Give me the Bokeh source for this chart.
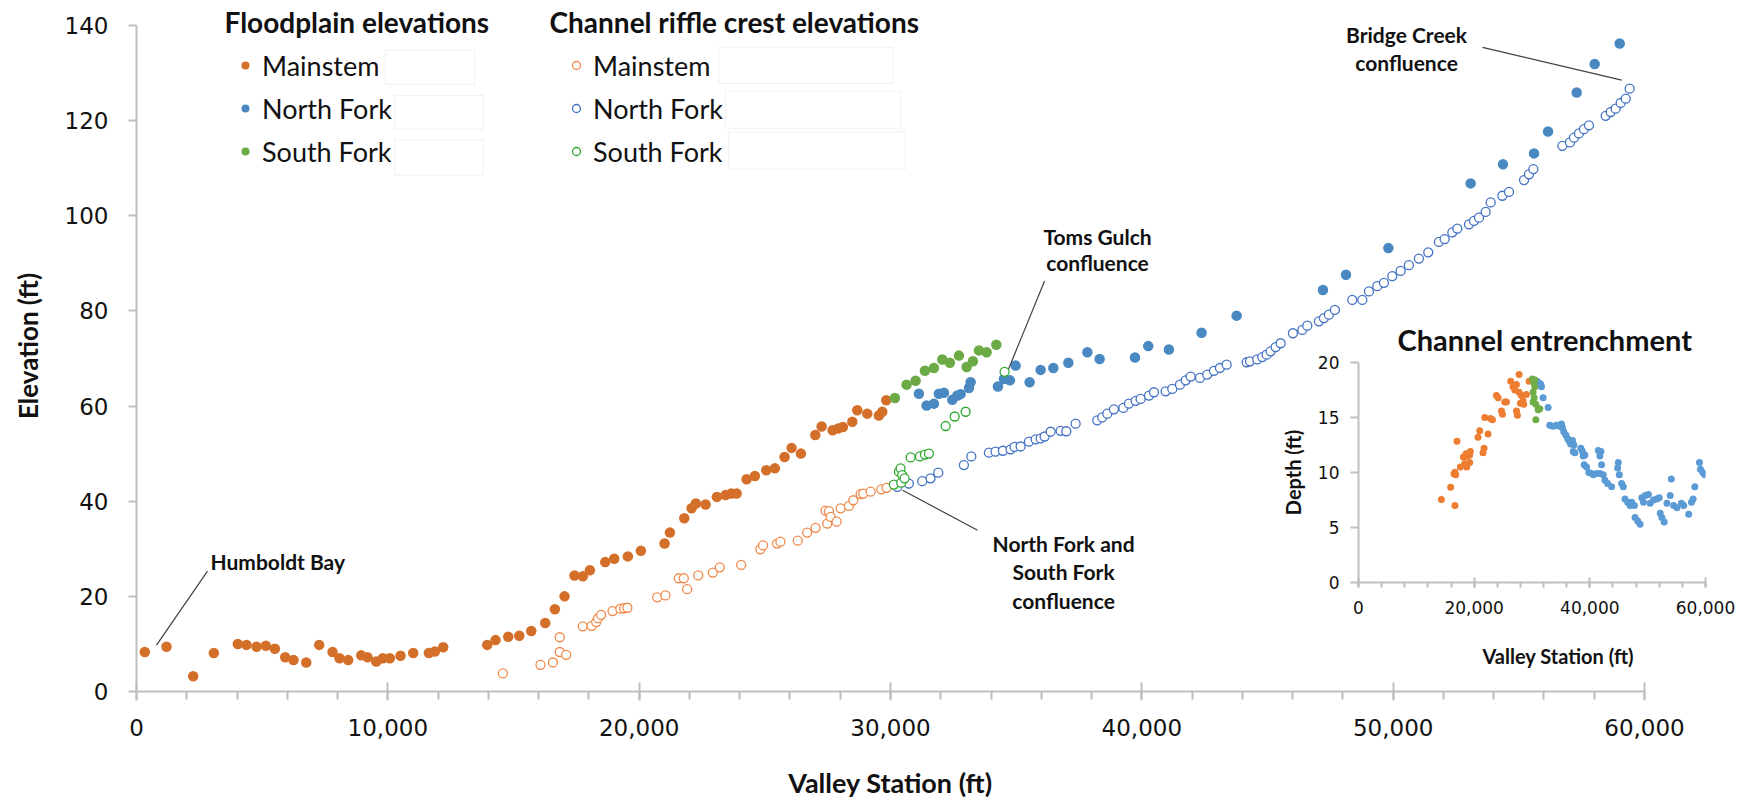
import math
from bokeh.plotting import figure
from bokeh.models import (Range1d, Label, Legend, LegendItem, BoxAnnotation, Title,
                          NumeralTickFormatter, SingleIntervalTicker)
from bokeh.layouts import column
from bokeh.embed import file_html
from bokeh.resources import INLINE

# ---------------- data ----------------
# Floodplain elevations (filled markers)
fp_main_x = [330, 1194, 2256, 3077, 4032, 4377, 4775, 5146, 5505, 5917, 6248, 6752, 7270, 7800, 8078,
             8424, 8941, 9192, 9538, 9801, 10080, 10505, 11010, 11632, 11870, 12204, 13955, 14286, 14791,
             15229, 15707, 16263, 16646, 17031, 17429, 17760, 18039, 18650, 19008, 19550, 20068, 21011,
             21222, 21795, 22085, 22256, 22642, 23092, 23438, 23665, 23876, 24274, 24605, 25058, 25400,
             25786, 26065, 26435, 27008, 27260, 27697, 27924, 28106, 28480, 28679, 29077, 29538, 29673, 29832]
fp_main_y = [8.3, 9.4, 3.2, 8.1, 10.0, 9.8, 9.4, 9.6, 9.0, 7.2, 6.6, 6.1, 9.8, 8.3, 7.0,
             6.6, 7.6, 7.2, 6.3, 7.0, 7.0, 7.5, 8.1, 8.1, 8.4, 9.3, 9.8, 10.8, 11.5,
             11.7, 12.7, 14.4, 17.3, 20.0, 24.4, 24.2, 25.5, 27.2, 27.9, 28.4, 29.6, 31.1,
             33.4, 36.4, 38.5, 39.5, 39.3, 40.9, 41.3, 41.6, 41.6, 44.6, 45.3, 46.5, 46.9,
             49.3, 51.2, 50.0, 53.9, 55.7, 54.9, 55.3, 55.6, 56.7, 59.1, 58.4, 58.0, 58.8, 61.2]

fp_nf_x = [31130, 31437, 31727, 31926, 32125, 32459, 32658, 32790, 33121, 33188, 34274, 34513, 34752,
           34979, 35536, 35973, 36479, 37076, 37832, 38321, 39727, 40256, 41077, 42378, 43772, 47207,
           48123, 49809, 53084, 54370, 55605, 56162, 57302, 58018, 59013]
fp_nf_y = [62.6, 60.1, 60.5, 62.6, 62.8, 61.3, 62.2, 62.5, 63.8, 65.0, 64.1, 65.7, 65.4,
           68.5, 65.0, 67.6, 68.0, 69.1, 71.3, 69.9, 70.2, 72.6, 71.9, 75.4, 79.0, 84.4,
           87.6, 93.2, 106.8, 110.8, 113.1, 117.7, 125.9, 131.9, 136.2]

fp_sf_x = [30175, 30640, 31000, 31370, 31727, 32060, 32363, 32721, 33028, 33280, 33519, 33824, 34210]
fp_sf_y = [61.7, 64.5, 65.3, 67.4, 68.0, 69.8, 69.1, 70.6, 68.2, 69.4, 71.7, 71.3, 72.9]

# Channel riffle crest elevations (open markers)
rc_main_x = [14576, 16076, 16567, 16840, 16840, 17098, 17756, 18106, 18290, 18364, 18488, 18942, 19248,
             19400, 19530, 20716, 21046, 21576, 21775, 21910, 22348, 22930, 23209, 24058, 24823, 24929,
             25487, 25620, 26310, 26683, 27019, 27417, 27549, 27483, 27616, 27855, 28014, 28346, 28520,
             28811, 28917, 29208, 29634, 29845]
rc_main_y = [3.8, 5.6, 6.1, 11.4, 8.3, 7.7, 13.7, 13.8, 14.6, 15.4, 16.1, 16.9, 17.4,
             17.5, 17.6, 19.8, 20.2, 23.8, 23.8, 21.5, 24.4, 25.0, 26.1, 26.6, 29.9, 30.7,
             31.1, 31.5, 31.7, 33.4, 34.4, 38.0, 37.9, 35.3, 36.7, 35.7, 38.5, 39.0, 40.2,
             41.5, 41.6, 42.0, 42.5, 42.8]

rc_nf_x = [30268, 30730, 31263, 31594, 31900, 32920, 33215, 33915, 34181, 34472, 34778, 34937, 35177,
           35507, 35774, 35973, 36132, 36371, 36769, 36995, 37366, 38227, 38427, 38626, 38891, 39264,
           39488, 39753, 39952, 40284, 40483, 40948, 41213, 41517, 41744, 41943, 42313, 42604, 42869,
           43108, 43374, 44170, 44302, 44594, 44793, 44965, 45124, 45323, 45522, 46011, 46385, 46584,
           47046, 47245, 47444, 47682, 48374, 48772, 49036, 49369, 49634, 49965, 50295, 50626, 51024,
           51396, 51820, 52049, 52354, 52553, 53017, 53216, 53415, 53680, 53879, 54344, 54609, 55206,
           55405, 55578, 56732, 57035, 57194, 57393, 57592, 57791, 58455, 58654, 58853, 59052, 59251, 59410]
rc_nf_y = [43.0, 43.7, 44.2, 44.8, 46.0, 47.6, 49.4, 50.2, 50.4, 50.6, 50.9, 51.4, 51.5,
           52.5, 53.0, 53.2, 53.6, 54.6, 54.8, 54.7, 56.3, 57.0, 57.6, 58.4, 59.3, 59.6,
           60.5, 61.1, 61.5, 62.2, 62.9, 63.1, 63.6, 64.5, 65.4, 66.2, 65.9, 66.6, 67.4,
           68.0, 68.7, 69.2, 69.4, 69.8, 70.3, 70.8, 71.5, 72.4, 73.2, 75.3, 76.0, 76.9,
           77.8, 78.5, 79.2, 80.2, 82.3, 82.3, 84.1, 85.2, 85.9, 87.3, 88.4, 89.6, 91.0,
           92.3, 94.5, 95.1, 96.5, 97.3, 98.2, 98.9, 99.6, 100.8, 102.8, 104.2, 105.0, 107.5,
           108.7, 109.8, 114.7, 115.4, 116.4, 117.3, 118.2, 119.0, 121.0, 121.8, 122.5, 123.7, 124.6, 126.7]

rc_sf_x = [30135, 30334, 30402, 30429, 30468, 30560, 30800, 31170, 31370, 31530, 32194, 32553, 32989, 34540]
rc_sf_y = [43.5, 46.2, 46.9, 43.9, 45.5, 44.8, 49.2, 49.4, 49.8, 50.0, 55.8, 57.8, 58.8, 67.2]

# Channel entrenchment (inset): depth vs valley station
ent_main_x = [14320, 15934, 16683, 17030, 16510, 16683, 16800, 17610, 18360, 18130, 18830, 18710, 19225,
              19340, 19225, 18590, 18250, 20670, 20960, 21530, 21710, 21830, 22400, 22810, 23160, 23850,
              24140, 24720, 24890, 25300, 25580, 26330, 26730, 27020, 27310, 27310, 27480, 27770, 27770,
              28170, 28460, 28000, 28570, 29040, 29500]
ent_main_y = [7.55, 8.67, 7.0, 12.85, 9.88, 10.03, 9.8, 10.5, 10.8, 11.4, 11.5, 10.5, 10.9,
              11.9, 11.6, 11.7, 11.4, 13.2, 13.8, 11.8, 12.2, 15.0, 13.5, 14.9, 14.8, 17.0,
              16.8, 15.6, 15.3, 16.4, 16.4, 18.3, 17.8, 17.5, 18.0, 15.6, 15.2, 18.9, 17.3,
              17.0, 16.5, 16.3, 16.2, 17.1, 18.3]
ent_sf_x = [30080, 30310, 30480, 30190, 30370, 30190, 30660, 31060, 31350, 30660, 30480]
ent_sf_y = [18.5, 18.2, 17.8, 17.3, 16.8, 16.4, 16.2, 15.7, 15.8, 14.8, 18.4]
ent_nf_x = [30880, 31350, 31640, 31520, 31920, 32790, 33080, 33650, 34230, 34810, 35100, 35270, 35500,
            35850, 36140, 36370, 36660, 37010, 37240, 37120, 37410, 38450, 38730, 38850, 39140, 39020,
            39430, 39830, 40300, 40590, 41170, 41740, 41460, 41920, 41740, 42030, 42320, 42610, 43080,
            43770, 44810, 44920, 45100, 45500, 45790, 46080, 46540, 46950, 47240, 47700, 47820, 48280,
            48690, 48980, 49560, 50140, 49270, 50430, 51010, 51590, 52000, 52170, 52460, 52860, 53330,
            53900, 54090, 54490, 55070, 55830, 56230, 57100, 57570, 57860, 58150, 58960, 59130, 59540, 59890]
ent_nf_y = [18.3, 18.1, 17.8, 18.0, 16.8, 15.9, 14.3, 14.2, 14.3, 14.2, 14.4, 14.1, 13.7,
            13.4, 13.1, 12.9, 12.6, 12.9, 12.5, 11.9, 11.8, 12.2, 11.9, 11.5, 11.6, 10.7,
            10.5, 10.0, 9.9, 9.8, 9.9, 9.9, 12.0, 11.9, 11.5, 10.7, 9.8, 9.3, 9.0,
            8.7, 10.4, 10.9, 9.8, 9.0, 8.7, 7.6, 7.3, 7.0, 7.3, 7.0, 5.9, 5.6,
            5.3, 7.7, 7.9, 8.0, 7.3, 7.2, 7.5, 7.6, 7.7, 6.3, 5.9, 5.5, 7.2,
            7.9, 9.4, 7.0, 6.8, 7.2, 7.0, 6.2, 7.3, 7.6, 8.7, 10.9, 10.3, 10.0, 9.8]

series_labels = ["Mainstem", "North Fork", "South Fork"]
legend_titles = ["Floodplain elevations", "Channel riffle crest elevations"]

# ---------------- annotation positions / styles ----------------
ann_texts = ["Humboldt Bay", "Toms Gulch", "confluence", "North Fork and", "South Fork", "confluence",
             "Bridge Creek", "confluence"]
ann_x = [2945, 38238, 38238, 36886, 36886, 36886, 50533, 50533]
ann_y = [27.4, 95.7, 90.1, 31.1, 25.3, 19.2, 138.1, 132.2]
ann_align = ["left", "center", "center", "center", "center", "center", "center", "center"]
lead_x0 = [796, 36130, 30480, 53558]
lead_y0 = [9.75, 86.3, 42.3, 135.4]
lead_x1 = [2825, 34698, 33464, 59089]
lead_y1 = [25.3, 67.8, 33.9, 128.5]
# empty white boxes beside the legend labels (left, right, bottom, top)
boxes = [(9908, 13449, 127.6, 134.8), (10266, 13807, 118.2, 125.3), (10266, 13807, 108.5, 115.9),
         (23159, 30083, 127.8, 135.4), (23437, 30400, 118.4, 126.2), (23557, 30600, 109.8, 117.6)]

C_FM, C_FN, C_FS = "#D46F2A", "#4A88C2", "#6BAA45"
C_RM, C_RN, C_RS = "#F08A4B", "#4472C4", "#2DA82D"
AX = "#BFBFBF"
TXT = "#111111"
FONT = "Lato"
TICKFONT = "DejaVu Sans"

# ---------------- main figure ----------------
p = figure(width=1746, height=801, output_backend="svg", toolbar_location=None,
           x_range=Range1d(0, 60000), y_range=Range1d(0, 145.24),
           min_border_left=136, min_border_right=102, min_border_top=0, min_border_bottom=108)
p.outline_line_color = None
p.xgrid.grid_line_color = None
p.ygrid.grid_line_color = None

xa = p.xaxis[0]
xa.ticker = SingleIntervalTicker(interval=10000, num_minor_ticks=5)
xa.formatter = NumeralTickFormatter(format="0,0")
ya = p.yaxis[0]
ya.ticker = SingleIntervalTicker(interval=20, num_minor_ticks=0)
ya.bounds = (0, 140)
for ax in (xa, ya):
    ax.axis_line_color = AX
    ax.axis_line_width = 2
    ax.major_tick_line_color = AX
    ax.major_tick_line_width = 2
    ax.minor_tick_line_color = AX
    ax.minor_tick_line_width = 2
    ax.major_label_text_font = TICKFONT
    ax.major_label_text_font_size = "23px"
    ax.major_label_text_color = TXT
    ax.axis_label_text_font = FONT
    ax.axis_label_text_font_style = "bold"
    ax.axis_label_text_color = TXT
xa.major_tick_in = 9
xa.major_tick_out = 9
xa.minor_tick_in = 0
xa.minor_tick_out = 8
xa.major_label_standoff = 18
xa.axis_label = "Valley Station (ft)"
xa.axis_label_text_font_size = "27px"
xa.axis_label_standoff = 27
ya.major_tick_in = 0
ya.major_tick_out = 8
ya.minor_tick_line_color = None
ya.major_label_standoff = 20
ya.axis_label = "Elevation (ft)"
ya.axis_label_text_font_size = "26px"
ya.axis_label_standoff = 18

r_fm = p.scatter(fp_main_x, fp_main_y, marker="circle", size=10.5, fill_color=C_FM, line_color=None)
r_fn = p.scatter(fp_nf_x, fp_nf_y, marker="circle", size=10.5, fill_color=C_FN, line_color=None)
r_fs = p.scatter(fp_sf_x, fp_sf_y, marker="circle", size=10.5, fill_color=C_FS, line_color=None)
r_rm = p.scatter(rc_main_x, rc_main_y, marker="circle", size=9, fill_color="white", line_color=C_RM, line_width=1.3)
r_rn = p.scatter(rc_nf_x, rc_nf_y, marker="circle", size=9, fill_color="white", line_color=C_RN, line_width=1.3)
r_rs = p.scatter(rc_sf_x, rc_sf_y, marker="circle", size=9, fill_color="white", line_color=C_RS, line_width=1.3)

# leader lines
p.segment(lead_x0, lead_y0, lead_x1, lead_y1, line_color="#404040", line_width=1.2)

for t, x, y, al in zip(ann_texts, ann_x, ann_y, ann_align):
    p.add_layout(Label(x=x, y=y, text=t, text_align=al, text_baseline="middle", text_font=FONT,
                       text_font_style="bold", text_font_size="21px", text_color=TXT))

# legend boxes
for (l, r, b, t) in boxes:
    p.add_layout(BoxAnnotation(left=l, right=r, bottom=b, top=t, fill_color="white", fill_alpha=1,
                               line_color="#D0D0D0", line_width=1))

# legend titles
p.add_layout(Label(x=3502, y=140.8, text=legend_titles[0], text_align="left", text_baseline="middle",
                   text_font=FONT, text_font_style="bold", text_font_size="28px", text_color=TXT))
p.add_layout(Label(x=16434, y=140.8, text=legend_titles[1], text_align="left", text_baseline="middle",
                   text_font=FONT, text_font_style="bold", text_font_size="28px", text_color=TXT))


def make_legend(rends, loc):
    lg = Legend(items=[LegendItem(label=lab, renderers=[r]) for lab, r in zip(series_labels, rends)],
                location=loc, orientation="vertical")
    lg.border_line_color = None
    lg.background_fill_alpha = 0
    lg.padding = 0
    lg.margin = 0
    lg.spacing = 9
    lg.glyph_width = 20
    lg.glyph_height = 34
    lg.label_standoff = 7
    lg.label_text_font = FONT
    lg.label_text_font_size = "27px"
    lg.label_text_color = TXT
    return lg


p.add_layout(make_legend([r_fm, r_fn, r_fs], (99, 523)))
p.add_layout(make_legend([r_rm, r_rn, r_rs], (430, 523)))

# ---------------- inset figure ----------------
q = figure(frame_width=347, frame_height=220, output_backend="svg", toolbar_location=None,
           x_range=Range1d(0, 60000), y_range=Range1d(0, 20),
           min_border_left=100, min_border_right=83, min_border_top=60, min_border_bottom=120)
q.background_fill_color = None
q.background_fill_alpha = 0
q.border_fill_color = None
q.border_fill_alpha = 0
q.outline_line_color = None
q.xgrid.grid_line_color = None
q.ygrid.grid_line_color = None
q.styles = {"position": "absolute", "left": "1222px", "top": "302px"}

qx = q.xaxis[0]
qx.ticker = SingleIntervalTicker(interval=20000, num_minor_ticks=5)
qx.formatter = NumeralTickFormatter(format="0,0")
qy = q.yaxis[0]
qy.ticker = SingleIntervalTicker(interval=5, num_minor_ticks=0)
for ax in (qx, qy):
    ax.axis_line_color = AX
    ax.axis_line_width = 2
    ax.major_tick_line_color = AX
    ax.major_tick_line_width = 2
    ax.minor_tick_line_color = AX
    ax.minor_tick_line_width = 2
    ax.major_label_text_font = TICKFONT
    ax.major_label_text_font_size = "17px"
    ax.major_label_text_color = TXT
qx.major_tick_in = 5
qx.major_tick_out = 5
qx.minor_tick_in = 0
qx.minor_tick_out = 5
qx.major_label_standoff = 13
qy.major_tick_in = 0
qy.major_tick_out = 8
qy.minor_tick_line_color = None
qy.major_label_standoff = 11

q.scatter(ent_main_x, ent_main_y, marker="circle", size=7, fill_color="#ED7D31", line_color=None)
q.scatter(ent_nf_x, ent_nf_y, marker="circle", size=7, fill_color="#5B9BD5", line_color=None)
q.scatter(ent_sf_x, ent_sf_y, marker="circle", size=7, fill_color="#70AD47", line_color=None)

q.add_layout(Title(text="Channel entrenchment", align="left", offset=39, standoff=11,
                   text_font=FONT, text_font_style="bold", text_font_size="29px", text_color=TXT), "above")
q.add_layout(Title(text="Valley Station (ft)", align="left", offset=124, standoff=51,
                   text_font=FONT, text_font_style="bold", text_font_size="20px", text_color=TXT), "below")
q.add_layout(Title(text="Depth (ft)", align="center", standoff=20,
                   text_font=FONT, text_font_style="bold", text_font_size="20px", text_color=TXT), "left")

layout = column(p, q)
open("out.html", "w").write(file_html(layout, INLINE))
